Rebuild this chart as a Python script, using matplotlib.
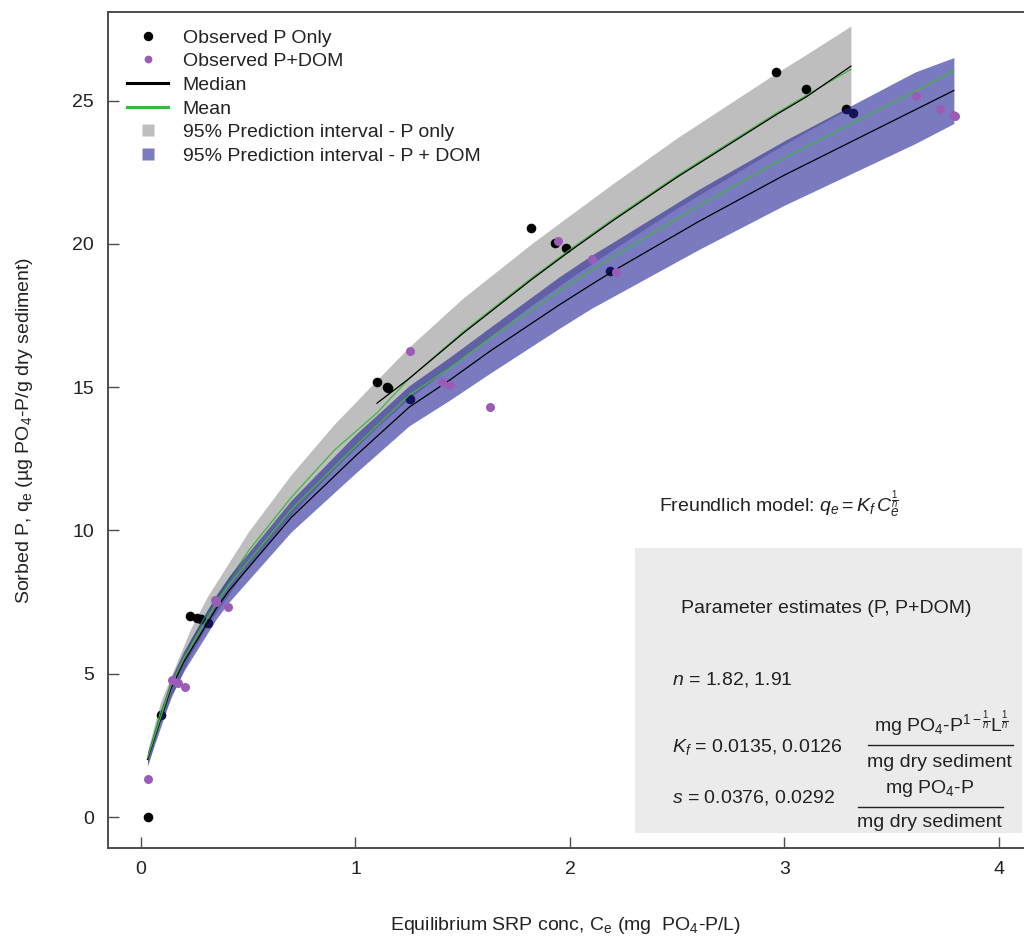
import matplotlib
matplotlib.use("Agg")
import matplotlib.pyplot as plt
from matplotlib.lines import Line2D
from matplotlib.patches import Rectangle

plt.rcParams["font.family"] = ["Liberation Sans", "DejaVu Sans"]
plt.rcParams["mathtext.fontset"] = "custom"
plt.rcParams["mathtext.rm"] = "Liberation Sans"
plt.rcParams["mathtext.it"] = "Liberation Sans:italic"
plt.rcParams["mathtext.bf"] = "Liberation Sans:bold"

# ---- observations ----
ce_p = [0.033, 0.093, 0.23, 0.26, 0.28, 0.31, 1.10, 1.145, 1.152, 1.254,
        1.818, 1.93, 1.98, 2.186, 2.959, 3.099, 3.287, 3.318]
qe_p = [0.0, 3.56, 7.02, 6.95, 6.90, 6.77, 15.19, 15.01, 14.97, 14.58,
        20.55, 20.03, 19.86, 19.05, 26.0, 25.42, 24.69, 24.57]

ce_dom = [0.033, 0.143, 0.172, 0.205, 0.345, 0.35, 0.407, 1.254, 1.402, 1.44,
          1.627, 1.946, 2.104, 2.214, 3.613, 3.725, 3.787, 3.795]
qe_dom = [1.33, 4.78, 4.68, 4.55, 7.59, 7.52, 7.34, 16.26, 15.19, 15.07,
          14.32, 20.10, 19.47, 19.03, 25.16, 24.69, 24.49, 24.46]

# ---- P only: prediction band and mean ----
grid_p = [0.03, 0.09, 0.23, 0.31, 0.50, 0.70, 0.90, 1.10, 1.25, 1.50,
          1.82, 2.00, 2.20, 2.50, 2.96, 3.10, 3.31]
lo_p = [1.75, 3.30, 5.65, 6.70, 8.75, 10.55, 12.15, 13.60, 14.60, 16.05,
        17.85, 18.80, 19.80, 21.25, 23.30, 23.90, 24.75]
hi_p = [2.30, 4.00, 6.55, 7.70, 9.95, 11.95, 13.70, 15.25, 16.40, 18.10,
        20.00, 21.00, 22.10, 23.70, 25.95, 26.60, 27.60]
mean_p = [2.02, 3.65, 6.07, 7.15, 9.28, 11.15, 12.79, 14.10, 15.30, 16.92,
          18.80, 19.80, 20.86, 22.38, 24.55, 25.17, 26.09]

# P only median (evaluated at the fitted concentrations above 1 mg/L)
med_grid_p = [1.10, 1.25, 1.50, 1.82, 2.00, 2.20, 2.50, 2.96, 3.10, 3.31]
med_p = [14.44, 15.30, 16.87, 18.75, 19.75, 20.81, 22.33, 24.50, 25.12, 26.20]

# ---- P + DOM: prediction band, median, mean ----
grid_dom = [0.03, 0.14, 0.20, 0.35, 0.41, 0.70, 1.00, 1.25, 1.44, 1.63,
            1.95, 2.10, 2.21, 2.60, 3.00, 3.61, 3.79]
lo_dom = [1.80, 4.20, 5.10, 6.90, 7.50, 9.95, 12.00, 13.65, 14.55, 15.50,
          17.05, 17.75, 18.20, 19.80, 21.35, 23.50, 24.20]
hi_dom = [2.25, 4.85, 5.80, 7.75, 8.40, 11.05, 13.35, 15.05, 16.05, 17.10,
          18.85, 19.60, 20.10, 21.90, 23.60, 26.00, 26.50]
med_dom = [2.01, 4.50, 5.42, 7.27, 7.90, 10.45, 12.60, 14.30, 15.25, 16.27,
           17.87, 18.58, 19.09, 20.78, 22.40, 24.68, 25.35]
mean_dom = [2.06, 4.60, 5.54, 7.45, 8.10, 10.73, 12.95, 14.72, 15.67, 16.72,
            18.35, 19.08, 19.59, 21.33, 23.00, 25.33, 26.05]

xticks = [0, 1, 2, 3, 4]
yticks = [0, 5, 10, 15, 20, 25]

GREY_BAND = "#bebebe"
BLUE_BAND = (33 / 255, 33 / 255, 150 / 255, 0.6)
PURPLE = "#9b5cb8"
GREEN = "#3fb83a"
AXIS = "#4d4d4d"
TEXT = "#222222"
FS = 14

fig = plt.figure(figsize=(10.24, 9.43), dpi=100)
ax = fig.add_axes([108 / 1024, 95 / 943, 916 / 1024, 836 / 943])

ax.fill_between(grid_p, lo_p, hi_p, color=GREY_BAND, lw=0, zorder=1)
ax.scatter(ce_p, qe_p, s=48, color="black", lw=0, zorder=2)
ax.plot(grid_p, mean_p, color=GREEN, lw=0.9, zorder=3)
ax.plot(med_grid_p, med_p, color="black", lw=0.9, zorder=3)

ax.fill_between(grid_dom, lo_dom, hi_dom, color=BLUE_BAND, lw=0, zorder=4)
ax.plot(grid_dom, med_dom, color="black", lw=0.9, zorder=5)
ax.plot(grid_dom, mean_dom, color=GREEN, lw=0.9, zorder=5)
ax.scatter(ce_dom, qe_dom, s=42, color=PURPLE, lw=0, zorder=6)

ax.set_xlim(-0.154, 4.117)
ax.set_ylim(-1.08, 28.09)
ax.set_xticks(xticks)
ax.set_yticks(yticks)
ax.tick_params(direction="in", length=8, width=1.0, color=AXIS,
               labelsize=FS, labelcolor=TEXT)
ax.tick_params(axis="x", pad=9)
ax.tick_params(axis="y", pad=10)
for side in ("left", "top", "bottom"):
    ax.spines[side].set_color(AXIS)
    ax.spines[side].set_linewidth(1.4)
ax.spines["right"].set_visible(False)

ax.set_xlabel("Equilibrium SRP conc, C$_\\mathrm{e}$ (mg  PO$_4$-P/L)",
              fontsize=FS, color=TEXT, labelpad=27)
ax.set_ylabel("Sorbed P, q$_\\mathrm{e}$ (\u00b5g PO$_4$-P/g dry sediment)",
              fontsize=FS, color=TEXT, labelpad=27)

handles = [
    Line2D([], [], ls="none", marker="o", ms=6.8, mfc="black", mec="none"),
    Line2D([], [], ls="none", marker="o", ms=5.6, mfc=PURPLE, mec="none"),
    Line2D([], [], color="black", lw=2.2),
    Line2D([], [], color=GREEN, lw=2.2),
    Line2D([], [], ls="none", marker="s", ms=8.5, mfc=GREY_BAND, mec="none"),
    Line2D([], [], ls="none", marker="s", ms=8.5, mfc="#7b7bc0", mec="none"),
]
labels = ["Observed P Only", "Observed P+DOM", "Median", "Mean",
          "95% Prediction interval - P only",
          "95% Prediction interval - P + DOM"]
ax.legend(handles, labels, loc="upper left", frameon=False, fontsize=FS,
          handlelength=2.1, handletextpad=0.75, labelspacing=0.31,
          borderaxespad=0.0, bbox_to_anchor=(0.0125, 0.989),
          labelcolor=TEXT)

# model annotation
ax.text(0.6015, 0.410, "Freundlich model: $q_e = K_f\\,C_e^{\\frac{1}{n}}$",
        transform=ax.transAxes, fontsize=FS, color=TEXT, va="center")

ax.add_patch(Rectangle((0.5753, 0.018), 0.4225, 0.341, transform=ax.transAxes,
                       facecolor="#ebebeb", edgecolor="none", zorder=0.5))
ax.text(0.6255, 0.287, "Parameter estimates (P, P+DOM)",
        transform=ax.transAxes, fontsize=FS, color=TEXT, va="center")
ax.text(0.6157, 0.202, "$n$ = 1.82, 1.91",
        transform=ax.transAxes, fontsize=FS, color=TEXT, va="center")
ax.text(0.6157, 0.121, "$K_f$ = 0.0135, 0.0126",
        transform=ax.transAxes, fontsize=FS, color=TEXT, va="center")
ax.text(0.910, 0.148, "mg PO$_4$-P$^{1-\\frac{1}{n}}$L$^{\\frac{1}{n}}$",
        transform=ax.transAxes, fontsize=FS, color=TEXT, va="center",
        ha="center")
ax.plot([0.8297, 0.9880], [0.123, 0.123], transform=ax.transAxes,
        color=TEXT, lw=1.0)
ax.text(0.908, 0.102, "mg dry sediment", transform=ax.transAxes,
        fontsize=FS, color=TEXT, va="center", ha="center")
ax.text(0.6157, 0.061, "$s$ = 0.0376, 0.0292",
        transform=ax.transAxes, fontsize=FS, color=TEXT, va="center")
ax.text(0.897, 0.071, "mg PO$_4$-P", transform=ax.transAxes,
        fontsize=FS, color=TEXT, va="center", ha="center")
ax.plot([0.8188, 0.9771], [0.049, 0.049], transform=ax.transAxes,
        color=TEXT, lw=1.0)
ax.text(0.897, 0.030, "mg dry sediment", transform=ax.transAxes,
        fontsize=FS, color=TEXT, va="center", ha="center")

fig.savefig("out.png", dpi=100)
